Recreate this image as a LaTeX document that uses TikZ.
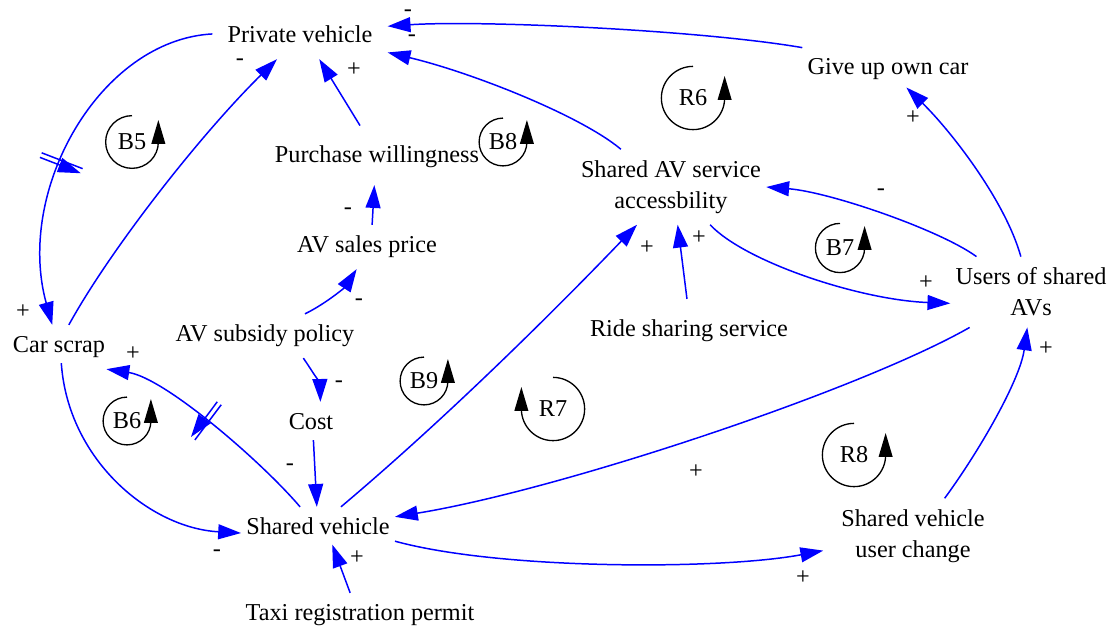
\documentclass[tikz,border=0pt]{standalone}
\usepackage{fontspec}
\setmainfont{Liberation Serif}
\usetikzlibrary{arrows.meta,decorations.markings}

% feedback loop symbol, arrow on the right (counter-clockwise)
\newcommand{\ccwloop}[4]{%
  \begin{scope}[shift={#2}, x=1pt, y=1pt]
    \node[looplabel] (#1) at (0,0) {#4};
    \draw[loopline] (0,#3) arc[start angle=90, end angle=360, radius=#3];
    \fill (#3-4,-1) -- (#3+4,-1) -- (#3,12.5) -- cycle;
  \end{scope}}
% feedback loop symbol, arrow on the left (clockwise)
\newcommand{\cwloop}[4]{%
  \begin{scope}[shift={#2}, x=1pt, y=1pt]
    \node[looplabel] (#1) at (0,0) {#4};
    \draw[loopline] (0,#3) arc[start angle=90, end angle=-180, radius=#3];
    \fill (-#3-4,-1) -- (-#3+4,-1) -- (-#3,12.5) -- cycle;
  \end{scope}}

\begin{document}
\begin{tikzpicture}[x=0.02cm, y=-0.02cm,
  every node/.style={font=\fontsize{13.8pt}{17.6pt}\selectfont},
  var/.style={inner xsep=2.8pt, inner ysep=6.2pt, text height=9.6pt, text depth=2.8pt},
  var2/.style={inner xsep=2.8pt, inner ysep=6.2pt, align=center},
  link/.style={draw=blue, line width=0.85pt, -{Triangle[length=13pt,width=8.5pt]}},
  sign/.style={inner sep=0pt},
  looplabel/.style={inner sep=0pt},
  loopline/.style={black, line width=0.75pt},
  delaymark/.style={postaction={decorate, decoration={markings,
    mark=at position #1 with {\draw[blue, line width=0.85pt]
      (-1.4pt,-12.5pt) -- (-1.4pt,12.5pt) (1.4pt,-12.5pt) -- (1.4pt,12.5pt);}}}},
]
\useasboundingbox (0,0) rectangle (1115,632);

% variables
\node[var, inner xsep=8.5pt] (pv) at (300,37) {Private vehicle};
\node[var] (pw)  at (377,157) {Purchase willingness};
\node[var] (gu)  at (888,69)  {Give up own car};
\node[var2] (sa) at (671,187) {Shared AV service\\accessbility};
\node[var] (sp)  at (367,247) {AV sales price};
\node[var] (sub) at (265,336) {AV subsidy policy};
\node[var] (cs)  at (59,347)  {Car scrap};
\node[var] (rs)  at (689,331) {Ride sharing service};
\node[var2] (us) at (1031,292) {Users of shared\\AVs};
\node[var] (co)  at (311,424) {Cost};
\node[var] (sv)  at (318,529) {Shared vehicle};
\node[var] (tx)  at (360,615) {Taxi registration permit};
\node[var2] (su) at (913,536) {Shared vehicle\\user change};

% causal links
\draw[link, delaymark=0.56] (pv.178) .. controls (100,40) and (15,190) .. (cs.107);
\draw[link] (cs.66) .. controls (110,250) and (200,135) .. (pv.224);
\draw[link, shorten <=6.2pt] (pw.117) -- (pv.-49);
\draw[link, shorten >=3.4pt] (sp.77) -- (pw.-96);
\draw[link] (sub.29) .. controls (327,303) and (345,287) .. (sp.-115);
\draw[link] (sub.-30) .. controls (313,372) and (320,385) .. (co.67);
\draw[link, shorten <=-3.4pt] (co.-83) -- (sv.93);
\draw[link, shorten <=-3.4pt] (cs.-83) .. controls (68,460) and (150,528) .. (sv.183);
\draw[link, delaymark=0.53] (sv.129) .. controls (262,462) and (165,378) .. (cs.-25);
\draw[link] (sv.44) .. controls (450,415) and (560,305) .. (sa.-132);
\draw[link, shorten <=5.7pt] (rs.92) -- (sa.-80);
\draw[link] (sa.-44) .. controls (745,262) and (860,300) .. (us.188);
\draw[link] (us.147) .. controls (940,230) and (830,192) .. (sa.0);
\draw[link, shorten >=-3pt] (us.106) .. controls (1005,200) and (950,130) .. (gu.-45);
\draw[link] (gu.166) .. controls (700,30) and (480,20) .. (pv.7);
\draw[link] (sa.143) .. controls (580,115) and (470,72) .. (pv.-10);
\draw[link] (us.-150) .. controls (860,390) and (560,490) .. (sv.9);
\draw[link, shorten >=7.4pt] (sv.-9) .. controls (500,570) and (720,570) .. (su.189);
\draw[link] (su.50) .. controls (980,450) and (1020,380) .. (us.-96);
\draw[link, shorten >=-4pt] (tx.114) -- (sv.-53);

% link polarities
\node[sign] (s1)  at (23,312)  {+};
\node[sign] (s2)  at (240,62)  {-};
\node[sign] (s3)  at (354,70)  {+};
\node[sign] (s4)  at (348,211) {-};
\node[sign] (s5)  at (359,302) {-};
\node[sign] (s6)  at (339,384) {-};
\node[sign] (s7)  at (290,467) {-};
\node[sign] (s8)  at (217,553) {-};
\node[sign] (s9)  at (133,354) {+};
\node[sign] (s10) at (647,248) {+};
\node[sign] (s11) at (699,238) {+};
\node[sign] (s12) at (926,283) {+};
\node[sign] (s13) at (881,192) {-};
\node[sign] (s14) at (913,118) {+};
\node[sign] (s15) at (408,13)  {-};
\node[sign] (s16) at (412,38)  {-};
\node[sign] (s17) at (696,472) {+};
\node[sign] (s18) at (803,578) {+};
\node[sign] (s19) at (1046,349) {+};
\node[sign] (s20) at (357,558) {+};

% feedback loops
\ccwloop{b5}{(132,142)}{15}{B5}
\ccwloop{b8}{(503,142)}{13.6}{B8}
\ccwloop{r6}{(693,98)}{18}{R6}
\ccwloop{b7}{(840,248)}{14}{B7}
\ccwloop{b9}{(424,381)}{13.6}{B9}
\cwloop{r7}{(553,409)}{18}{R7}
\ccwloop{r8}{(854,455)}{18}{R8}
\ccwloop{b6}{(127,421)}{13.6}{B6}
\end{tikzpicture}
\end{document}
